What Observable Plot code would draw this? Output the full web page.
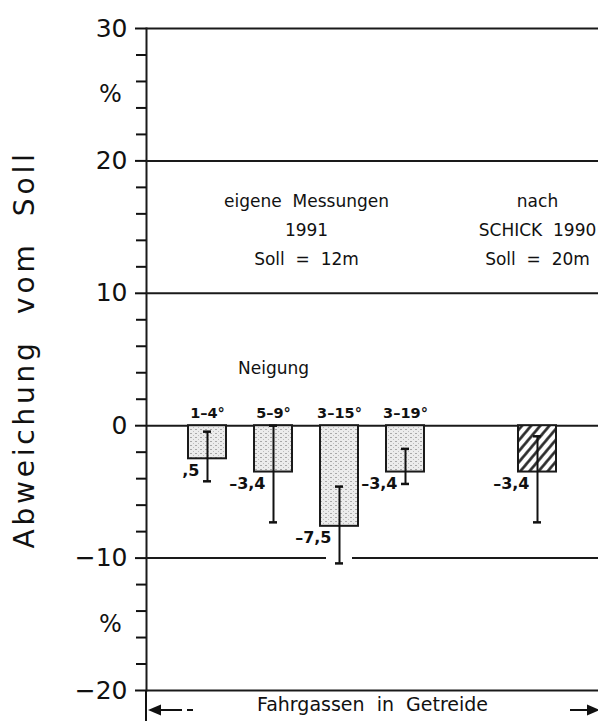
<!DOCTYPE html>
<html><head><meta charset="utf-8">
<script src="https://cdn.jsdelivr.net/npm/d3@7"></script>
<script src="https://cdn.jsdelivr.net/npm/@observablehq/plot@0.6"></script>
<style>html,body{margin:0;padding:0;background:#fff}#chart svg{display:block}</style>
</head><body><div id="chart"></div>
<script>
// ---- data ----
const categories = ["1–4°", "5–9°", "3–15°", "3–19°", "SCHICK 1990"];
const xDomain = ["1–4°", "5–9°", "3–15°", "3–19°", "·", "SCHICK 1990"];
const means = [-2.5, -3.5, -7.6, -3.5, -3.5];
const errLow = [-4.2, -7.3, -10.4, -4.4, -7.3];
const errHigh = [-0.45, 0, -4.6, -1.75, -0.8];
const valueLabels = [",5", "–3,4", "–7,5", "–3,4", "–3,4"];
const topLabels = ["1–4°", "5–9°", "3–15°", "3–19°", ""];
const patterns = ["dots", "dots", "dots", "dots", "hatch"];
const majorTicks = [-20, -10, 0, 10, 20, 30];
const minorTicks = [-18, -16, -14, -12, -8, -6, -4, -2, 2, 4, 6, 8, 12, 14, 16, 18, 22, 24, 26, 28];
const percentAt = [25, -15];
const yTitle = "Abweichung  vom  Soll";
const xTitle = "Fahrgassen  in  Getreide";
const noteOwn = "eigene  Messungen\n1991\nSoll  =  12m";
const noteSchick = "nach\nSCHICK  1990\nSoll  =  20m";
const noteNeigung = "Neigung";
const gapAt = {cat: "3–15°", y: -10};

const rows = categories.map((cat, i) => ({
  cat, mean: means[i], lo: errLow[i], hi: errHigh[i],
  label: valueLabels[i], top: topLabels[i], pat: patterns[i]
}));

function bottomArrows(index, scales, values, dims) {
  const {width, height, marginLeft, marginBottom} = dims;
  const y0 = height - marginBottom;
  const ya = y0 + 20;
  const g = d3.create("svg:g").attr("stroke", "#111").attr("fill", "#111").attr("stroke-width", 2);
  g.append("line").attr("x1", marginLeft).attr("x2", marginLeft).attr("y1", y0).attr("y2", height);
  g.append("path").attr("stroke", "none").attr("d", `M${marginLeft + 2},${ya}l13,-5.5v11z`);
  g.append("line").attr("x1", marginLeft + 14).attr("x2", marginLeft + 36).attr("y1", ya).attr("y2", ya);
  g.append("line").attr("x1", marginLeft + 41).attr("x2", marginLeft + 47).attr("y1", ya).attr("y2", ya);
  g.append("line").attr("x1", width - 28).attr("x2", width - 10).attr("y1", ya).attr("y2", ya);
  g.append("path").attr("stroke", "none").attr("d", `M${width + 2},${ya}l-13,-5.5v11z`);
  return g.node();
}

const fmt = d => d < 0 ? "−" + (-d) : String(d);

const svg = Plot.plot({
  width: 598,
  height: 721,
  marginTop: 28,
  marginBottom: 31,
  marginLeft: 146,
  marginRight: 0,
  style: {fontFamily: "'DejaVu Sans', sans-serif", color: "#111", background: "#fff"},
  x: {type: "band", domain: xDomain, paddingInner: 0.43, paddingOuter: 0.6, axis: null},
  y: {domain: [-20, 30], axis: null},
  marks: [
    Plot.ruleY(majorTicks, {stroke: "#1a1a1a", strokeWidth: 2}),
    Plot.tickY([gapAt], {x: "cat", y: "y", stroke: "#fff", strokeWidth: 5, insetLeft: 6, insetRight: 6}),
    Plot.frame({anchor: "left", stroke: "#1a1a1a", strokeWidth: 2}),
    Plot.axisY(majorTicks, {tickSize: 11, tickPadding: 8, tickFormat: fmt, fontSize: 25, strokeWidth: 2}),
    Plot.axisY(minorTicks, {tickSize: 10, text: null, strokeWidth: 2}),
    Plot.text(percentAt, {y: d => d, text: () => "%", frameAnchor: "left", textAnchor: "middle", dx: -36, fontSize: 24}),
    Plot.text([yTitle], {frameAnchor: "left", textAnchor: "middle", dx: -121, dy: -10, rotate: -90, fontSize: 28}),
    Plot.barY(rows.filter(d => d.pat === "dots"), {x: "cat", y: "mean", fill: "url(#dots)", stroke: "#1a1a1a", strokeWidth: 2}),
    Plot.barY(rows.filter(d => d.pat === "hatch"), {x: "cat", y: "mean", fill: "url(#hatch)", stroke: "#1a1a1a", strokeWidth: 2}),
    Plot.ruleX(rows, {x: "cat", y1: "lo", y2: "hi", stroke: "#111", strokeWidth: 2}),
    Plot.tickY(rows, {x: "cat", y: "lo", insetLeft: 15, insetRight: 15, stroke: "#111", strokeWidth: 2.5}),
    Plot.tickY(rows, {x: "cat", y: "hi", insetLeft: 15, insetRight: 15, stroke: "#111", strokeWidth: 2.5}),
    Plot.text(rows.filter(d => d.top), {x: "cat", y: 0, text: "top", dy: -12, fontSize: 14.5, fontWeight: 600}),
    Plot.text(rows, {x: "cat", y: "mean", text: "label", dx: -8, dy: 12, textAnchor: "end", fontSize: 16, fontWeight: 600}),
    Plot.text([noteOwn], {x: () => "5–9°", y: () => 15, dx: 33, lineHeight: 1.7, fontSize: 17}),
    Plot.text([noteSchick], {x: () => "SCHICK 1990", y: () => 15, lineHeight: 1.7, fontSize: 17}),
    Plot.text([noteNeigung], {x: () => "5–9°", y: () => 4.3, fontSize: 17}),
    Plot.text([xTitle], {frameAnchor: "bottom", dy: 20, fontSize: 19}),
    bottomArrows
  ]
});

d3.select(svg).selectAll("text")
  .filter(function () { return this.textContent === yTitle; })
  .style("letter-spacing", "3.8px");

d3.select(svg).insert("defs", ":first-child").html(`
  <pattern id="dots" width="5" height="4" patternUnits="userSpaceOnUse">
    <rect width="5" height="4" fill="#ececec"/>
    <rect x="0" y="1" width="2" height="1" fill="#a8a8a8"/>
    <rect x="3" y="3" width="1" height="1" fill="#bdbdbd"/>
  </pattern>
  <pattern id="hatch" width="7" height="7" patternUnits="userSpaceOnUse" patternTransform="rotate(40)">
    <rect width="7" height="7" fill="#fff"/>
    <line x1="1.5" y1="0" x2="1.5" y2="7" stroke="#222" stroke-width="2.6"/>
  </pattern>`);

document.getElementById("chart").appendChild(svg);
</script>
</body></html>
